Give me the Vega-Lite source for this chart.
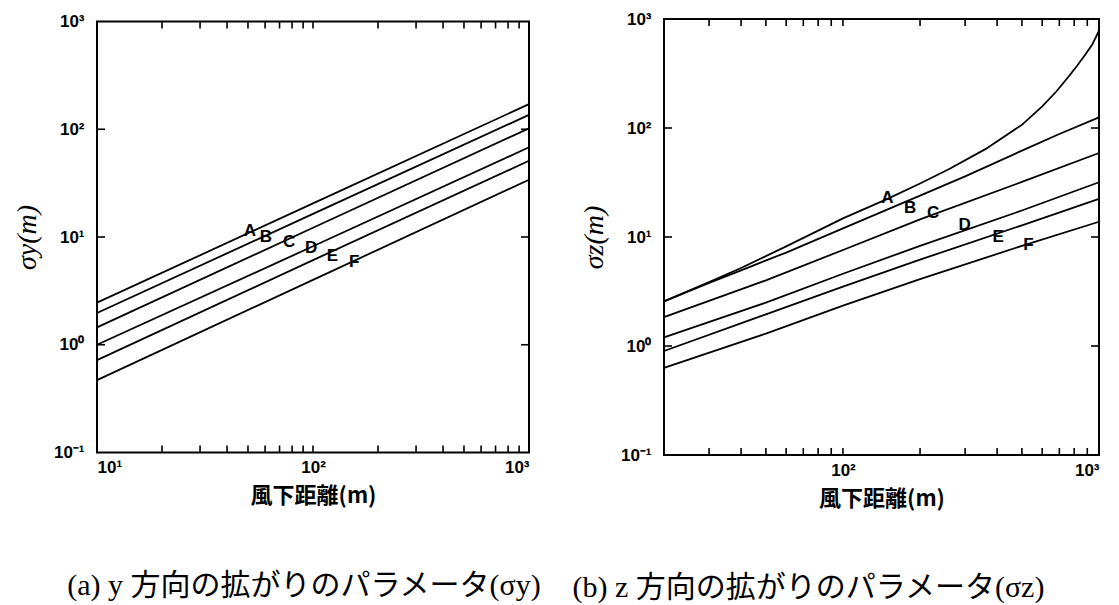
{
  "$schema": "https://vega.github.io/schema/vega-lite/v6.json",
  "background": "white",
  "padding": {"left": 12, "top": 9, "right": 10, "bottom": 0},
  "datasets": {
    "sy": [
      {"x": 10, "y": 2.46, "cls": "A"}, {"x": 100, "y": 20.5, "cls": "A"}, {"x": 1000, "y": 171, "cls": "A"},
      {"x": 10, "y": 1.97, "cls": "B"}, {"x": 100, "y": 16.4, "cls": "B"}, {"x": 1000, "y": 136, "cls": "B"},
      {"x": 10, "y": 1.45, "cls": "C"}, {"x": 100, "y": 12.2, "cls": "C"}, {"x": 1000, "y": 102, "cls": "C"},
      {"x": 10, "y": 1.0, "cls": "D"}, {"x": 100, "y": 8.2, "cls": "D"}, {"x": 1000, "y": 68, "cls": "D"},
      {"x": 10, "y": 0.72, "cls": "E"}, {"x": 100, "y": 6.1, "cls": "E"}, {"x": 1000, "y": 51, "cls": "E"},
      {"x": 10, "y": 0.47, "cls": "F"}, {"x": 100, "y": 4.0, "cls": "F"}, {"x": 1000, "y": 34, "cls": "F"}
    ],
    "ly": [
      {"x": 51, "y": 11.4, "cls": "A"}, {"x": 60.5, "y": 10.1, "cls": "B"}, {"x": 77.5, "y": 8.9, "cls": "C"},
      {"x": 98, "y": 7.9, "cls": "D"}, {"x": 123, "y": 6.7, "cls": "E"}, {"x": 155, "y": 5.8, "cls": "F"}
    ],
    "sz": [
      {"x": 20, "y": 2.57, "cls": "A"}, {"x": 30, "y": 3.85, "cls": "A"}, {"x": 40, "y": 5.2, "cls": "A"},
      {"x": 60, "y": 8.2, "cls": "A"}, {"x": 100, "y": 14.8, "cls": "A"}, {"x": 150, "y": 22.5, "cls": "A"},
      {"x": 200, "y": 31, "cls": "A"}, {"x": 260, "y": 42, "cls": "A"}, {"x": 360, "y": 64, "cls": "A"},
      {"x": 500, "y": 107, "cls": "A"}, {"x": 600, "y": 158, "cls": "A"}, {"x": 680, "y": 215, "cls": "A"},
      {"x": 760, "y": 295, "cls": "A"}, {"x": 820, "y": 370, "cls": "A"}, {"x": 880, "y": 465, "cls": "A"},
      {"x": 940, "y": 580, "cls": "A"}, {"x": 1000, "y": 780, "cls": "A"},
      {"x": 20, "y": 2.57, "cls": "B"}, {"x": 30, "y": 3.8, "cls": "B"}, {"x": 40, "y": 4.95, "cls": "B"},
      {"x": 60, "y": 7.2, "cls": "B"}, {"x": 100, "y": 12, "cls": "B"}, {"x": 200, "y": 24, "cls": "B"},
      {"x": 300, "y": 36, "cls": "B"}, {"x": 500, "y": 62, "cls": "B"}, {"x": 700, "y": 88, "cls": "B"},
      {"x": 1000, "y": 125, "cls": "B"},
      {"x": 20, "y": 1.84, "cls": "C"}, {"x": 50, "y": 4.0, "cls": "C"}, {"x": 100, "y": 7.6, "cls": "C"},
      {"x": 200, "y": 14.5, "cls": "C"}, {"x": 500, "y": 32, "cls": "C"}, {"x": 1000, "y": 59, "cls": "C"},
      {"x": 20, "y": 1.2, "cls": "D"}, {"x": 50, "y": 2.5, "cls": "D"}, {"x": 100, "y": 4.6, "cls": "D"},
      {"x": 200, "y": 8.3, "cls": "D"}, {"x": 500, "y": 17.5, "cls": "D"}, {"x": 1000, "y": 31.8, "cls": "D"},
      {"x": 20, "y": 0.9, "cls": "E"}, {"x": 50, "y": 1.95, "cls": "E"}, {"x": 100, "y": 3.5, "cls": "E"},
      {"x": 200, "y": 6.2, "cls": "E"}, {"x": 500, "y": 12.8, "cls": "E"}, {"x": 1000, "y": 22.4, "cls": "E"},
      {"x": 20, "y": 0.63, "cls": "F"}, {"x": 50, "y": 1.3, "cls": "F"}, {"x": 100, "y": 2.35, "cls": "F"},
      {"x": 200, "y": 4.1, "cls": "F"}, {"x": 500, "y": 8.3, "cls": "F"}, {"x": 1000, "y": 13.8, "cls": "F"}
    ],
    "lz": [
      {"x": 149, "y": 22.7, "cls": "A"}, {"x": 183, "y": 18.4, "cls": "B"}, {"x": 225, "y": 16.5, "cls": "C"},
      {"x": 299, "y": 12.9, "cls": "D"}, {"x": 404, "y": 10.1, "cls": "E"}, {"x": 530, "y": 8.5, "cls": "F"}
    ],
    "xt1": [
      {"t": 20}, {"t": 30}, {"t": 40}, {"t": 50}, {"t": 60}, {"t": 70}, {"t": 80}, {"t": 90}, {"t": 100},
      {"t": 200}, {"t": 300}, {"t": 400}, {"t": 500}, {"t": 600}, {"t": 700}, {"t": 800}, {"t": 900}
    ],
    "xt2": [
      {"t": 30}, {"t": 40}, {"t": 50}, {"t": 60}, {"t": 70}, {"t": 80}, {"t": 90}, {"t": 100},
      {"t": 200}, {"t": 300}, {"t": 400}, {"t": 500}, {"t": 600}, {"t": 700}, {"t": 800}, {"t": 900}
    ],
    "yt": [{"t": 1}, {"t": 10}, {"t": 100}]
  },
  "config": {
    "view": {"stroke": "black", "strokeWidth": 2},
    "tick": {"opacity": 1},
    "axis": {
      "domain": false, "grid": false, "ticks": false,
      "labelFont": "Liberation Sans", "labelFontWeight": "bold", "labelFontSize": 17, "labelColor": "black",
      "titleColor": "black"
    },
    "axisX": {"labelPadding": 7, "titlePadding": 10, "titleFont": "Noto Sans CJK JP", "titleFontWeight": "bold", "titleFontSize": 22},
    "axisY": {"labelPadding": 13, "titlePadding": 12, "titleFont": "Liberation Serif", "titleFontStyle": "italic", "titleFontWeight": "normal", "titleFontSize": 28}
  },
  "hconcat": [
    {
      "width": 432,
      "height": 431,
      "title": {"text": "(a) y 方向の拡がりのパラメータ(σy)", "orient": "bottom", "anchor": "middle", "dx": -9, "offset": 64, "font": "Liberation Serif, Noto Sans CJK JP", "fontSize": 30, "fontWeight": "normal", "color": "black"},
      "layer": [
        {
          "data": {"name": "sy"},
          "mark": {"type": "line", "color": "black", "strokeWidth": 1.8},
          "encoding": {
            "x": {"field": "x", "type": "quantitative", "scale": {"type": "log", "domain": [10, 1000]},
              "axis": {"orient": "bottom", "title": "風下距離(m)", "values": [10, 100, 1000],
                "labelExpr": "datum.value == 10 ? '10¹' : datum.value == 100 ? '10²' : '10³'"}},
            "y": {"field": "y", "type": "quantitative", "scale": {"type": "log", "domain": [0.1, 1000]},
              "axis": {"orient": "left", "title": "σy(m)", "values": [0.1, 1, 10, 100, 1000],
                "labelExpr": "datum.value == 1000 ? '10³' : datum.value == 100 ? '10²' : datum.value == 10 ? '10¹' : datum.value == 1 ? '10⁰' : '10⁻¹'"}},
            "detail": {"field": "cls"}
          }
        },
        {
          "data": {"name": "ly"},
          "mark": {"type": "text", "font": "Liberation Sans", "fontWeight": "bold", "fontSize": 17, "color": "black"},
          "encoding": {
            "x": {"field": "x", "type": "quantitative", "scale": {"type": "log", "domain": [10, 1000]}, "axis": null},
            "y": {"field": "y", "type": "quantitative", "scale": {"type": "log", "domain": [0.1, 1000]}, "axis": null},
            "text": {"field": "cls"}
          }
        },
        {
          "data": {"name": "xt1"},
          "mark": {"type": "tick", "orient": "vertical", "color": "black", "opacity": 1, "thickness": 1.6, "size": 7, "yOffset": -3.5},
          "encoding": {
            "x": {"field": "t", "type": "quantitative", "scale": {"type": "log", "domain": [10, 1000]}, "axis": null},
            "y": {"datum": 0.1, "type": "quantitative", "scale": {"type": "log", "domain": [0.1, 1000]}, "axis": null}
          }
        },
        {
          "data": {"name": "xt1"},
          "mark": {"type": "tick", "orient": "vertical", "color": "black", "opacity": 1, "thickness": 1.6, "size": 7, "yOffset": 3.5},
          "encoding": {
            "x": {"field": "t", "type": "quantitative", "scale": {"type": "log", "domain": [10, 1000]}, "axis": null},
            "y": {"datum": 1000, "type": "quantitative", "scale": {"type": "log", "domain": [0.1, 1000]}, "axis": null}
          }
        },
        {
          "data": {"name": "yt"},
          "mark": {"type": "tick", "orient": "horizontal", "color": "black", "opacity": 1, "thickness": 1.6, "size": 8, "xOffset": 4},
          "encoding": {
            "y": {"field": "t", "type": "quantitative", "scale": {"type": "log", "domain": [0.1, 1000]}, "axis": null},
            "x": {"datum": 10, "type": "quantitative", "scale": {"type": "log", "domain": [10, 1000]}, "axis": null}
          }
        },
        {
          "data": {"name": "yt"},
          "mark": {"type": "tick", "orient": "horizontal", "color": "black", "opacity": 1, "thickness": 1.6, "size": 8, "xOffset": -4},
          "encoding": {
            "y": {"field": "t", "type": "quantitative", "scale": {"type": "log", "domain": [0.1, 1000]}, "axis": null},
            "x": {"datum": 1000, "type": "quantitative", "scale": {"type": "log", "domain": [10, 1000]}, "axis": null}
          }
        }
      ],
      "resolve": {"axis": {"x": "independent", "y": "independent"}}
    },
    {
      "width": 435,
      "height": 436,
      "title": {"text": "(b) z 方向の拡がりのパラメータ(σz)", "orient": "bottom", "anchor": "middle", "dx": -73, "offset": 64, "font": "Liberation Serif, Noto Sans CJK JP", "fontSize": 30, "fontWeight": "normal", "color": "black"},
      "layer": [
        {
          "data": {"name": "sz"},
          "mark": {"type": "line", "color": "black", "strokeWidth": 1.8},
          "encoding": {
            "x": {"field": "x", "type": "quantitative", "scale": {"type": "log", "domain": [20, 1000]},
              "axis": {"orient": "bottom", "title": "風下距離(m)", "values": [100, 1000],
                "labelExpr": "datum.value == 100 ? '10²' : '10³'"}},
            "y": {"field": "y", "type": "quantitative", "scale": {"type": "log", "domain": [0.1, 1000]},
              "axis": {"orient": "left", "title": "σz(m)", "values": [0.1, 1, 10, 100, 1000],
                "labelExpr": "datum.value == 1000 ? '10³' : datum.value == 100 ? '10²' : datum.value == 10 ? '10¹' : datum.value == 1 ? '10⁰' : '10⁻¹'"}},
            "detail": {"field": "cls"}
          }
        },
        {
          "data": {"name": "lz"},
          "mark": {"type": "text", "font": "Liberation Sans", "fontWeight": "bold", "fontSize": 17, "color": "black"},
          "encoding": {
            "x": {"field": "x", "type": "quantitative", "scale": {"type": "log", "domain": [20, 1000]}, "axis": null},
            "y": {"field": "y", "type": "quantitative", "scale": {"type": "log", "domain": [0.1, 1000]}, "axis": null},
            "text": {"field": "cls"}
          }
        },
        {
          "data": {"name": "xt2"},
          "mark": {"type": "tick", "orient": "vertical", "color": "black", "opacity": 1, "thickness": 1.6, "size": 7, "yOffset": -3.5},
          "encoding": {
            "x": {"field": "t", "type": "quantitative", "scale": {"type": "log", "domain": [20, 1000]}, "axis": null},
            "y": {"datum": 0.1, "type": "quantitative", "scale": {"type": "log", "domain": [0.1, 1000]}, "axis": null}
          }
        },
        {
          "data": {"name": "xt2"},
          "mark": {"type": "tick", "orient": "vertical", "color": "black", "opacity": 1, "thickness": 1.6, "size": 7, "yOffset": 3.5},
          "encoding": {
            "x": {"field": "t", "type": "quantitative", "scale": {"type": "log", "domain": [20, 1000]}, "axis": null},
            "y": {"datum": 1000, "type": "quantitative", "scale": {"type": "log", "domain": [0.1, 1000]}, "axis": null}
          }
        },
        {
          "data": {"name": "yt"},
          "mark": {"type": "tick", "orient": "horizontal", "color": "black", "opacity": 1, "thickness": 1.6, "size": 8, "xOffset": 4},
          "encoding": {
            "y": {"field": "t", "type": "quantitative", "scale": {"type": "log", "domain": [0.1, 1000]}, "axis": null},
            "x": {"datum": 20, "type": "quantitative", "scale": {"type": "log", "domain": [20, 1000]}, "axis": null}
          }
        },
        {
          "data": {"name": "yt"},
          "mark": {"type": "tick", "orient": "horizontal", "color": "black", "opacity": 1, "thickness": 1.6, "size": 8, "xOffset": -4},
          "encoding": {
            "y": {"field": "t", "type": "quantitative", "scale": {"type": "log", "domain": [0.1, 1000]}, "axis": null},
            "x": {"datum": 1000, "type": "quantitative", "scale": {"type": "log", "domain": [20, 1000]}, "axis": null}
          }
        }
      ],
      "resolve": {"axis": {"x": "independent", "y": "independent"}}
    }
  ],
  "bounds": "flush",
  "center": true,
  "spacing": 135
}
